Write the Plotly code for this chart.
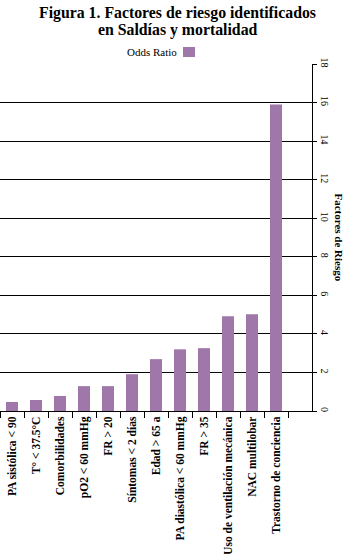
import plotly.graph_objects as go

categories = ["PA sistólica < 90", "T° < 37.5°C", "Comorbilidades", "pO2 < 60 mmHg",
              "FR > 20", "Síntomas < 2 días", "Edad > 65 a", "PA diastólica < 60 mmHg",
              "FR > 35", "Uso de ventilación mecánica", "NAC multilobar",
              "Trastorno de conciencia"]
odds_ratio = [0.47, 0.57, 0.78, 1.29, 1.29, 1.91, 2.69, 3.2, 3.26, 4.91, 5.02, 15.9]
y_ticks = [0, 2, 4, 6, 8, 10, 12, 14, 16, 18]
title_lines = ["Figura 1. Factores de riesgo identificados", "en Saldías y mortalidad"]

BAR = "#a077a9"
SERIF = "Liberation Serif, Times New Roman, serif"

fig = go.Figure()
fig.add_trace(go.Bar(x=categories, y=odds_ratio, name="Odds Ratio",
                     marker=dict(color=BAR, line=dict(width=0)), width=0.5,
                     showlegend=False))

fig.update_layout(
    width=348, height=554,
    margin=dict(l=0, r=36, t=64, b=143, autoexpand=False),
    paper_bgcolor="white", plot_bgcolor="white",
    font=dict(family=SERIF, color="black"),
    hovermode=False,
    xaxis=dict(range=[-0.5, 12.5], tickangle=-90, ticks="outside", ticklen=6,
               tickson="boundaries", tickcolor="black", showline=True, linecolor="black",
               linewidth=1, showgrid=False, automargin=False,
               tickfont=dict(size=11.5, family=SERIF, color="black", weight="bold")),
    yaxis=dict(side="right", range=[0, 18], tickvals=y_ticks, tickangle=90,
               ticks="outside", ticklen=4, tickcolor="black", showline=True,
               linecolor="black", linewidth=1, showgrid=True, gridcolor="black",
               gridwidth=1, zeroline=False, automargin=False,
               tickfont=dict(size=10, family=SERIF, color="black")),
)

for line, ypos in zip(title_lines, [1.1484, 1.0994]):
    fig.add_annotation(text="<b>" + line + "</b>",
                       xref="paper", yref="paper", x=0.5705, y=ypos,
                       xanchor="center", yanchor="middle", showarrow=False,
                       font=dict(size=15.8, family=SERIF, color="black"))

fig.add_annotation(text="<b>Factores de Riesgo</b>", xref="paper", yref="paper",
                   x=1.0897, y=0.5, xanchor="center", yanchor="middle", textangle=90,
                   showarrow=False, font=dict(size=11, family=SERIF, color="black"))

fig.add_annotation(text="Odds Ratio", xref="paper", yref="paper",
                   x=0.567, y=1.0346, xanchor="right", yanchor="middle", xshift=2,
                   showarrow=False, font=dict(size=11, family=SERIF, color="black"))
fig.add_shape(type="rect", xref="paper", yref="paper",
              x0=0.5865, x1=0.625, y0=1.0202, y1=1.049,
              fillcolor=BAR, line=dict(width=0))

fig.write_html("out.html", config={"displayModeBar": False},
               post_script="document.body.style.margin='0';document.body.style.overflow='hidden';")
